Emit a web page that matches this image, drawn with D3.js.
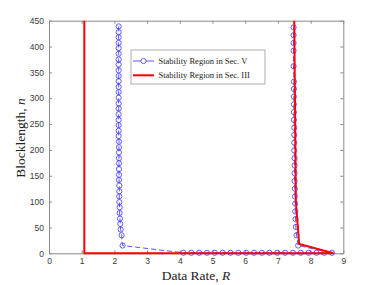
<!DOCTYPE html>
<html>
<head>
<meta charset="utf-8">
<script src="https://cdn.jsdelivr.net/npm/d3@7"></script>
<style>
  body { margin: 0; background: #fff; }
  svg { display: block; }
</style>
</head>
<body>
<div id="chart"></div>
<script>
// canvas size and margins
var width = 379,
    height = 285;

var margin = {
    top: 20.7,
    bottom: 31.7,
    left: 49,
    right: 35.7
};

// Stability Region in Sec. V (blue, circles): left branch, n small row, right branch
var leftN = [439, 428, 418, 407, 397, 386, 375, 365, 354, 343, 333, 322, 312, 301, 290, 280, 269, 258, 248, 237,
             227, 216, 205, 195, 184, 174, 163, 152, 142, 131, 120, 110, 99, 89, 78, 67, 57, 46, 35, 15];
var leftR = [2.13, 2.13, 2.13, 2.13, 2.13, 2.13, 2.13, 2.13, 2.13, 2.13, 2.13, 2.13, 2.13, 2.13, 2.13, 2.13, 2.13, 2.13, 2.13, 2.13,
             2.13, 2.14, 2.14, 2.14, 2.14, 2.14, 2.14, 2.14, 2.14, 2.15, 2.15, 2.15, 2.15, 2.16, 2.16, 2.17, 2.18, 2.19, 2.22, 2.25];
var bottomR = [4.11, 4.35, 4.59, 4.83, 5.07, 5.31, 5.55, 5.79, 6.03, 6.27,
               6.51, 6.74, 6.98, 7.22, 7.46, 7.70, 7.94, 8.18, 8.42, 8.65];
var bottomN = 1;
var rightN = [15, 35, 51, 66, 81, 96, 110, 125, 140, 155, 170, 184, 199, 214, 229, 243, 258, 273, 288, 303,
              318, 332, 362, 392, 407, 422, 437];
var rightR = [7.62, 7.57, 7.55, 7.54, 7.53, 7.53, 7.52, 7.52, 7.51, 7.51, 7.51, 7.51, 7.50, 7.50, 7.50, 7.50, 7.49, 7.49, 7.49, 7.49,
              7.49, 7.49, 7.48, 7.48, 7.48, 7.48, 7.48];

// Stability Region in Sec. III (red line)
var redR = [1.08, 1.08, 8.7, 7.65, 7.55, 7.5];
var redN = [450, 0, 0, 18, 100, 450];

var xTicks = [0, 1, 2, 3, 4, 5, 6, 7, 8, 9];
var yTicks = [0, 50, 100, 150, 200, 250, 300, 350, 400, 450];
var legendLabels = ["Stability Region in Sec. V", "Stability Region in Sec. III"];

var svg = d3.select("#chart")
    .append("svg")
    .attr("width", width)
    .attr("height", height);

var x = d3.scaleLinear().domain([0, 9]).range([margin.left, width - margin.right]);
var y = d3.scaleLinear().domain([0, 450]).range([height - margin.bottom, margin.top]);

var axisColor = "#8a8a8a",
    textColor = "#3a3a3a";

// white plot box
svg.append("rect")
    .attr("x", x(0)).attr("y", y(450))
    .attr("width", x(9) - x(0)).attr("height", y(0) - y(450))
    .attr("fill", "#fff");

// axes, ticks pointing in, on all four sides
function styleAxis(g) {
    g.select(".domain").attr("stroke", axisColor).attr("stroke-width", 1);
    g.selectAll(".tick line").attr("stroke", axisColor);
    g.selectAll(".tick text").attr("fill", textColor)
        .attr("font-family", "Liberation Sans, Arial, sans-serif").attr("font-size", "8.5px");
}

svg.append("g")
    .attr("transform", "translate(0," + y(0) + ")")
    .call(d3.axisBottom(x).tickValues(xTicks).tickSizeInner(-3).tickSizeOuter(0).tickPadding(5))
    .call(styleAxis);
svg.append("g")
    .attr("transform", "translate(0," + y(450) + ")")
    .call(d3.axisTop(x).tickValues(xTicks).tickSizeInner(-3).tickSizeOuter(0).tickFormat(""))
    .call(styleAxis);
svg.append("g")
    .attr("transform", "translate(" + x(0) + ",0)")
    .call(d3.axisLeft(y).tickValues(yTicks).tickSizeInner(-3).tickSizeOuter(0).tickPadding(5))
    .call(styleAxis);
svg.append("g")
    .attr("transform", "translate(" + x(9) + ",0)")
    .call(d3.axisRight(y).tickValues(yTicks).tickSizeInner(-3).tickSizeOuter(0).tickFormat(""))
    .call(styleAxis);

// build the blue series in drawing order
var bluePoints = [];
leftN.forEach(function(n, i) { bluePoints.push([leftR[i], n]); });
bottomR.forEach(function(r) { bluePoints.push([r, bottomN]); });
rightN.forEach(function(n, i) { bluePoints.push([rightR[i], n]); });

var line = d3.line()
    .x(function(d) { return x(d[0]); })
    .y(function(d) { return y(d[1]); });

svg.append("path")
    .datum(bluePoints)
    .attr("d", line)
    .attr("fill", "none")
    .attr("stroke", "#2b2bff")
    .attr("stroke-width", 0.8)
    .attr("stroke-dasharray", "5,3");

svg.selectAll(".blue-dot")
    .data(bluePoints)
    .enter().append("circle")
    .attr("class", "blue-dot")
    .attr("cx", function(d) { return x(d[0]); })
    .attr("cy", function(d) { return y(d[1]); })
    .attr("r", 2.6)
    .attr("fill", "none")
    .attr("stroke", "#3a3aff")
    .attr("stroke-width", 0.8);

// red line on top
var redPoints = redR.map(function(r, i) { return [r, redN[i]]; });
svg.append("path")
    .datum(redPoints)
    .attr("d", line)
    .attr("fill", "none")
    .attr("stroke", "#ff0000")
    .attr("stroke-width", 2);

// axis labels
var serif = "Liberation Serif, Times New Roman, serif";
var xLabel = svg.append("text")
    .attr("x", 196).attr("y", 279.5)
    .attr("text-anchor", "middle")
    .attr("font-family", serif).attr("font-size", "13.5px")
    .attr("fill", "#222");
xLabel.append("tspan").text("Data Rate, ");
xLabel.append("tspan").attr("font-style", "italic").text("R");

var yLabel = svg.append("text")
    .attr("transform", "translate(24.5,138) rotate(-90)")
    .attr("text-anchor", "middle")
    .attr("font-family", serif).attr("font-size", "13.5px")
    .attr("fill", "#222");
yLabel.append("tspan").text("Blocklength, ");
yLabel.append("tspan").attr("font-style", "italic").text("n");

// legend
var legend = svg.append("g").attr("transform", "translate(131,50)");
legend.append("rect")
    .attr("width", 134).attr("height", 34)
    .attr("fill", "#fff").attr("stroke", "#999").attr("stroke-width", 0.8);

legend.append("line")
    .attr("x1", 2).attr("x2", 23).attr("y1", 11).attr("y2", 11)
    .attr("stroke", "#2b2bff").attr("stroke-width", 0.8);
legend.append("circle")
    .attr("cx", 12.5).attr("cy", 11).attr("r", 2.6)
    .attr("fill", "#fff").attr("stroke", "#3a3aff").attr("stroke-width", 0.8);
legend.append("line")
    .attr("x1", 2).attr("x2", 23).attr("y1", 25.3).attr("y2", 25.3)
    .attr("stroke", "#ff0000").attr("stroke-width", 2);

legend.selectAll(".legend-text")
    .data(legendLabels)
    .enter().append("text")
    .attr("class", "legend-text")
    .attr("x", 27.5)
    .attr("y", function(d, i) { return 14 + i * 14.3; })
    .attr("font-family", serif).attr("font-size", "8.5px")
    .attr("fill", "#222")
    .text(function(d) { return d; });
</script>
</body>
</html>
